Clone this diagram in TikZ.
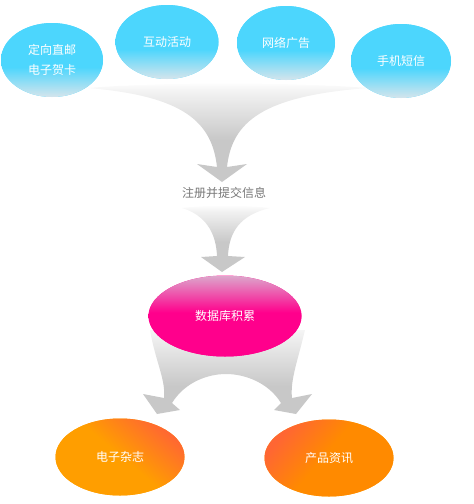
\documentclass[tikz,border=0pt]{standalone}
\usepackage{fontspec}
\setmainfont{Noto Sans CJK SC}
\usetikzlibrary{shapes.geometric}
\definecolor{cyanA}{HTML}{4CD6FD}
\definecolor{cyanB}{HTML}{D6E5EC}
\definecolor{pinkA}{HTML}{DCA8CC}
\definecolor{pinkB}{HTML}{FF008C}
\definecolor{orA}{HTML}{FF6633}
\definecolor{orB}{HTML}{FF9E00}
\definecolor{orC}{HTML}{FF8A00}
\definecolor{txtgray}{HTML}{777777}
\definecolor{swgray}{HTML}{C8C8C8}
\definecolor{swlight}{HTML}{F2F2F2}
% shadings with absolute sizes (bottom = 0bp)
\pgfdeclareverticalshading{bluesh}{110bp}{color(0bp)=(cyanB); color(30bp)=(cyanA); color(74bp)=(cyanA)}
\pgfdeclareverticalshading{pinksh}{160bp}{color(0bp)=(pinkB); color(44bp)=(pinkB); color(81bp)=(pinkA)}
\pgfdeclareverticalshading{orlsh}{150bp}{color(0bp)=(orB); color(76bp)=(orB); color(126bp)=(orA); color(150bp)=(orA)}
\pgfdeclareverticalshading{orrsh}{150bp}{color(0bp)=(orC); color(80bp)=(orC); color(126bp)=(orA); color(150bp)=(orA)}
\pgfdeclareverticalshading{funAsh}{290bp}{color(0bp)=(swgray); color(42bp)=(swgray); color(90bp)=(swlight); color(100bp)=(white)}
\pgfdeclareverticalshading{funBsh}{100bp}{color(0bp)=(swgray); color(30bp)=(swgray); color(61bp)=(swlight); color(67bp)=(white)}
\pgfdeclareverticalshading{splitsh}{180bp}{color(0bp)=(swgray); color(28bp)=(swgray); color(84bp)=(gray!8)}
\begin{document}
\begin{tikzpicture}[x=1pt,y=-1pt,
  shadewith/.style n args={2}{path picture={\node[inner sep=0pt, outer sep=0pt, rotate=#2] at (path picture bounding box.center) {\pgfuseshading{#1}};}},
  shadebox/.style={inner sep=0pt, outer sep=0pt, anchor=south west},
  bubble/.style={ellipse, inner sep=0pt, text=white, font=\fontsize{12}{20}\selectfont, align=center},
  bluebub/.style={bubble, minimum height=74pt, fill=cyanA, shadewith={bluesh}{0}},
  pinkbub/.style={bubble, minimum width=153pt, minimum height=81pt, fill=pinkB, shadewith={pinksh}{0}},
  orbub/.style={bubble, minimum width=129pt, minimum height=77pt, fill=orB}
]
\useasboundingbox (0,0) rectangle (474,504);
% funnel from the four sources
\begin{scope}
\clip (88,88) .. controls (160,82) and (290,82) .. (368,88)
  .. controls (262,96) and (232,122) .. (227,167)
  -- (247,164) -- (222,182) -- (197,164) -- (217,167)
  .. controls (212,122) and (184,96) .. (88,88) -- cycle;
\node[shadebox] (fa) at (85,182) {\pgfuseshading{funAsh}};
\end{scope}
% funnel to the database
\begin{scope}
\clip (182,208) .. controls (205,205) and (245,205) .. (270,208)
  .. controls (240,215) and (229,232) .. (228,256)
  -- (245,257) -- (222,272) -- (201,257) -- (217,256)
  .. controls (216,232) and (205,215) .. (182,208) -- cycle;
\node[shadebox] (fb) at (178,272) {\pgfuseshading{funBsh}};
\end{scope}
% split arrows to the two outputs
\begin{scope}
\clip (150,330) .. controls (155,360) and (166,380) .. (164,398)
  -- (143,394) -- (157,414) -- (180,410) -- (172,403)
  .. controls (185,382) and (208,374) .. (226,374)
  .. controls (244,374) and (268,382) .. (281,403)
  -- (274,410) -- (296,414) -- (312,394) -- (292,398)
  .. controls (290,380) and (298,360) .. (305,330) -- cycle;
\node[shadebox] (fc) at (138,414) {\pgfuseshading{splitsh}};
\end{scope}

\node[bluebub, minimum width=102pt] (b1) at (52,60) {定向直邮\\电子贺卡};
\node[bluebub, minimum width=103pt] (b2) at (167,42) {互动活动};
\node[bluebub, minimum width=98pt] (b3) at (286,43) {网络广告};
\node[bluebub, minimum width=100pt] (b4) at (401,61) {手机短信};
\node[text=txtgray, font=\fontsize{12}{14}\selectfont, inner sep=1pt] (reg) at (224,193) {注册并提交信息};
\node[pinkbub] (db) at (225,316) {数据库积累};
\node[orbub, shadewith={orlsh}{-40}] (m1) at (120,457) {电子杂志};
\node[orbub, shadewith={orrsh}{50}] (m2) at (329,458) {产品资讯};
\end{tikzpicture}
\end{document}
